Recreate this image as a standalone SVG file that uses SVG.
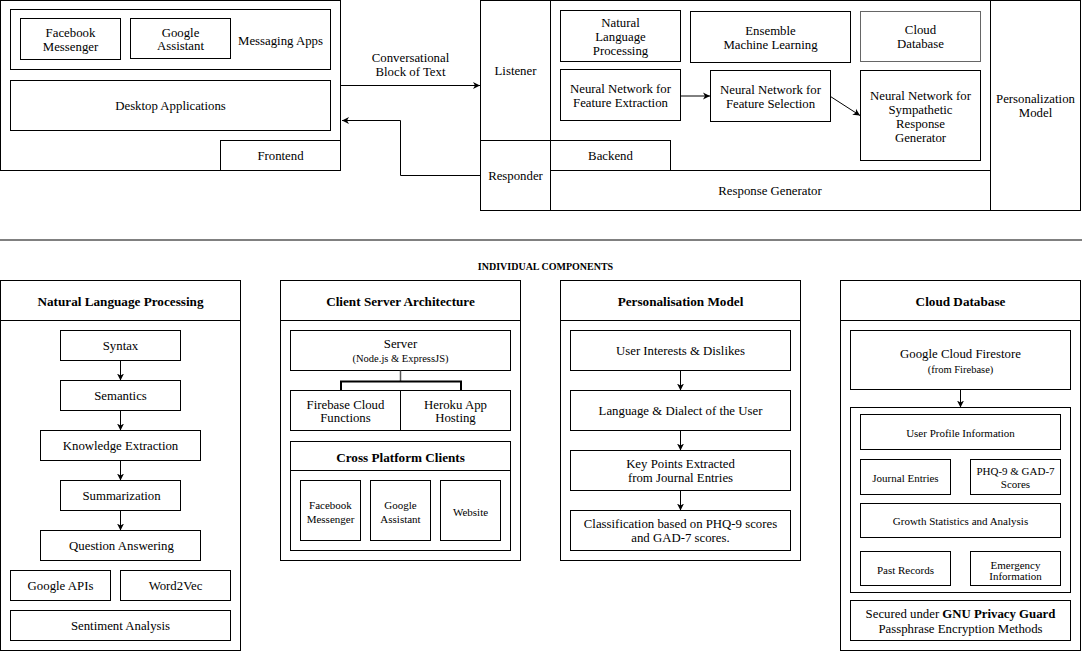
<svg xmlns="http://www.w3.org/2000/svg" width="1082" height="651" viewBox="0 0 1082 651">
<defs>
<style>
.box{fill:#fff;stroke:#000;stroke-width:1}
.ln{fill:none;stroke:#000;stroke-width:1}
.thick{fill:none;stroke:#000;stroke-width:2}
text{font-family:"Liberation Serif","Times New Roman",serif;font-size:12.8px;text-anchor:middle;dominant-baseline:central;fill:#000}
.s10{font-size:11px}
.s105{font-size:10.5px}
.hd{font-weight:bold;font-size:13.2px}
.sec{font-size:10px;font-weight:bold}
</style>
<marker id="ah" markerWidth="8" markerHeight="8" refX="7" refY="4" orient="auto" markerUnits="userSpaceOnUse">
<path d="M0,0.5 L7,4 L0,7.5 L2,4 z" fill="#000"/>
</marker>
</defs>
<rect width="1082" height="651" fill="#fff"/>

<g id="frontend">
<rect class="box" x="0.5" y="0.5" width="340" height="170"/>
<rect class="box" x="10.5" y="9.5" width="320" height="60"/>
<text x="280.5" y="40.5">Messaging Apps</text>
<rect class="box" x="220.5" y="140.5" width="120" height="30"/>
<text x="280.5" y="156">Frontend</text>
</g>
<g id="fb-messenger">
<rect class="box" x="20.5" y="18.5" width="100" height="41"/>
<text x="70.5" y="33">Facebook</text>
<text x="70.5" y="46.5">Messenger</text>
</g>
<g id="google-assistant">
<rect class="box" x="130.5" y="18.5" width="100" height="40"/>
<text x="180.5" y="32.5">Google</text>
<text x="180.5" y="45.5">Assistant</text>
</g>
<g id="desktop-apps">
<rect class="box" x="10.5" y="80.5" width="320" height="50"/>
<text x="170.5" y="106">Desktop Applications</text>
</g>

<g id="backend">
<rect class="box" x="480.5" y="0.5" width="600" height="210"/>
<line class="ln" x1="550.5" y1="0.5" x2="550.5" y2="210.5"/>
<line class="ln" x1="990.5" y1="0.5" x2="990.5" y2="210.5"/>
<line class="ln" x1="480.5" y1="140.5" x2="550.5" y2="140.5"/>
<line class="ln" x1="550.5" y1="170.5" x2="990.5" y2="170.5"/>
<rect class="box" x="550.5" y="140.5" width="120" height="30"/>
<text x="515.5" y="71">Listener</text>
<text x="515.5" y="176">Responder</text>
<text x="610.5" y="156">Backend</text>
<text x="770" y="191">Response Generator</text>
<text x="1035.5" y="99">Personalization</text>
<text x="1035.5" y="113">Model</text>
</g>
<g id="nlp-top">
<rect class="box" x="560.5" y="10.5" width="120" height="51"/>
<text x="620.5" y="23">Natural</text>
<text x="620.5" y="37">Language</text>
<text x="620.5" y="51">Processing</text>
</g>
<g id="ensemble">
<rect class="box" x="690.5" y="11.5" width="160" height="51"/>
<text x="770.5" y="31">Ensemble</text>
<text x="770.5" y="45">Machine Learning</text>
</g>
<g id="cloud-db-top">
<rect class="box" x="860.5" y="11.5" width="120" height="50" style="stroke:#666"/>
<text x="920.5" y="30">Cloud</text>
<text x="920.5" y="43.5">Database</text>
</g>
<g id="nn-extraction">
<rect class="box" x="560.5" y="69.5" width="120" height="51"/>
<text x="620.5" y="89">Neural Network for</text>
<text x="620.5" y="103">Feature Extraction</text>
</g>
<g id="nn-selection">
<rect class="box" x="710.5" y="70.5" width="120" height="51"/>
<text x="770.5" y="90">Neural Network for</text>
<text x="770.5" y="104">Feature Selection</text>
</g>
<g id="nn-sympathetic">
<rect class="box" x="860.5" y="70.5" width="120" height="90"/>
<text x="920.5" y="96">Neural Network for</text>
<text x="920.5" y="110">Sympathetic</text>
<text x="920.5" y="124">Response</text>
<text x="920.5" y="138">Generator</text>
</g>

<line x1="0" y1="240" x2="1082" y2="240" stroke="#808080" stroke-width="2"/>
<text class="sec" x="545.5" y="266.5">INDIVIDUAL COMPONENTS</text>

<g id="nlp-panel">
<rect class="box" x="0.5" y="280.5" width="240" height="370"/>
<line class="ln" x1="0.5" y1="320.5" x2="240.5" y2="320.5"/>
<text class="hd" x="120.5" y="301">Natural Language Processing</text>
</g>
<g id="syntax"><rect class="box" x="60.5" y="330.5" width="120" height="30"/><text x="120.5" y="346">Syntax</text></g>
<g id="semantics"><rect class="box" x="60.5" y="380.5" width="120" height="30"/><text x="120.5" y="396">Semantics</text></g>
<g id="knowledge"><rect class="box" x="40.5" y="430.5" width="160" height="30"/><text x="120.5" y="446">Knowledge Extraction</text></g>
<g id="summarization"><rect class="box" x="60.5" y="480.5" width="120" height="30"/><text x="121.5" y="496">Summarization</text></g>
<g id="qa"><rect class="box" x="40.5" y="530.5" width="160" height="30"/><text x="121.5" y="546">Question Answering</text></g>
<g id="google-apis"><rect class="box" x="10.5" y="570.5" width="100" height="30"/><text x="60.5" y="586">Google APIs</text></g>
<g id="word2vec"><rect class="box" x="120.5" y="570.5" width="110" height="30"/><text x="175.5" y="586">Word2Vec</text></g>
<g id="sentiment"><rect class="box" x="10.5" y="610.5" width="220" height="30"/><text x="120.5" y="626">Sentiment Analysis</text></g>

<g id="csa-panel">
<rect class="box" x="280.5" y="280.5" width="240" height="280"/>
<line class="ln" x1="280.5" y1="320.5" x2="520.5" y2="320.5"/>
<text class="hd" x="400.5" y="301">Client Server Architecture</text>
</g>
<g id="server">
<rect class="box" x="290.5" y="330.5" width="220" height="40"/>
<text x="400.5" y="344">Server</text>
<text class="s105" x="400.5" y="358.5">(Node.js &amp; ExpressJS)</text>
</g>
<g id="firebase-functions">
<rect class="box" x="290.5" y="390.5" width="110" height="40"/>
<text x="345.5" y="404.5">Firebase Cloud</text>
<text x="345.5" y="418">Functions</text>
</g>
<g id="heroku">
<rect class="box" x="400.5" y="390.5" width="110" height="40"/>
<text x="455.5" y="404.5">Heroku App</text>
<text x="455.5" y="418">Hosting</text>
</g>
<g id="cross-platform">
<rect class="box" x="290.5" y="441.5" width="220" height="109"/>
<line class="ln" x1="290.5" y1="470.5" x2="510.5" y2="470.5"/>
<text class="hd" x="400.5" y="457">Cross Platform Clients</text>
</g>
<g id="client-fb"><rect class="box" x="300.5" y="480.5" width="60" height="60"/><text class="s10" x="330.5" y="504.5">Facebook</text><text class="s10" x="330.5" y="518.5">Messenger</text></g>
<g id="client-ga"><rect class="box" x="370.5" y="480.5" width="60" height="60"/><text class="s10" x="400.5" y="504.5">Google</text><text class="s10" x="400.5" y="518.5">Assistant</text></g>
<g id="client-web"><rect class="box" x="440.5" y="480.5" width="60" height="60"/><text class="s10" x="470.5" y="511.5">Website</text></g>

<g id="pm-panel">
<rect class="box" x="560.5" y="280.5" width="240" height="280"/>
<line class="ln" x1="560.5" y1="320.5" x2="800.5" y2="320.5"/>
<text class="hd" x="680.5" y="301">Personalisation Model</text>
</g>
<g id="interests"><rect class="box" x="570.5" y="330.5" width="220" height="40"/><text x="680.5" y="351">User Interests &amp; Dislikes</text></g>
<g id="language"><rect class="box" x="570.5" y="390.5" width="220" height="40"/><text x="680.5" y="411">Language &amp; Dialect of the User</text></g>
<g id="keypoints"><rect class="box" x="570.5" y="450.5" width="220" height="40"/><text x="680.5" y="464">Key Points Extracted</text><text x="680.5" y="478">from Journal Entries</text></g>
<g id="classification"><rect class="box" x="570.5" y="510.5" width="220" height="40"/><text x="680.5" y="524">Classification based on PHQ-9 scores</text><text x="680.5" y="538">and GAD-7 scores.</text></g>

<g id="cd-panel">
<rect class="box" x="840.5" y="280.5" width="240" height="370"/>
<line class="ln" x1="840.5" y1="320.5" x2="1080.5" y2="320.5"/>
<text class="hd" x="960.5" y="301">Cloud Database</text>
</g>
<g id="firestore">
<rect class="box" x="850.5" y="330.5" width="220" height="59"/>
<text x="960.5" y="354">Google Cloud Firestore</text>
<text class="s105" x="960.5" y="369">(from Firebase)</text>
</g>
<g id="store-container"><rect class="box" x="850.5" y="407.5" width="220" height="185"/></g>
<g id="user-profile"><rect class="box" x="860.5" y="414.5" width="200" height="35"/><text class="s10" x="960.5" y="433">User Profile Information</text></g>
<g id="journal"><rect class="box" x="860.5" y="459.5" width="90" height="35"/><text class="s10" x="905.5" y="477.5">Journal Entries</text></g>
<g id="phq"><rect class="box" x="970.5" y="459.5" width="90" height="35"/><text class="s10" x="1015.5" y="471">PHQ-9 &amp; GAD-7</text><text class="s10" x="1015.5" y="484">Scores</text></g>
<g id="growth"><rect class="box" x="860.5" y="503.5" width="200" height="34"/><text class="s10" x="960.5" y="521">Growth Statistics and Analysis</text></g>
<g id="past-records"><rect class="box" x="860.5" y="551.5" width="90" height="34"/><text class="s10" x="905.5" y="569.5">Past Records</text></g>
<g id="emergency"><rect class="box" x="970.5" y="551.5" width="90" height="34"/><text class="s10" x="1015.5" y="564.5">Emergency</text><text class="s10" x="1015.5" y="576">Information</text></g>
<g id="gnu">
<rect class="box" x="850.5" y="600.5" width="220" height="40"/>
<text x="960.5" y="614">Secured under <tspan font-weight="bold">GNU Privacy Guard</tspan></text>
<text x="960.5" y="628.5">Passphrase Encryption Methods</text>
</g>

<g id="connectors">
<line class="ln" x1="340.5" y1="85.5" x2="480" y2="85.5" marker-end="url(#ah)"/>
<text x="410.5" y="58">Conversational</text>
<text x="410.5" y="72">Block of Text</text>
<polyline class="ln" points="480,175.5 400.5,175.5 400.5,120.5 342,120.5" marker-end="url(#ah)"/>
<line class="ln" x1="680.5" y1="96" x2="710" y2="96" marker-end="url(#ah)"/>
<line class="ln" x1="830.5" y1="96.5" x2="860" y2="115.5" marker-end="url(#ah)"/>
<line class="ln" x1="120.5" y1="360.5" x2="120.5" y2="380.5" marker-end="url(#ah)"/>
<line class="ln" x1="120.5" y1="410.5" x2="120.5" y2="430.5" marker-end="url(#ah)"/>
<line class="ln" x1="120.5" y1="460.5" x2="120.5" y2="480.5" marker-end="url(#ah)"/>
<line class="ln" x1="120.5" y1="510.5" x2="120.5" y2="530.5" marker-end="url(#ah)"/>
<line x1="400.5" y1="370.5" x2="400.5" y2="381.5" stroke="#555" stroke-width="1.5"/>
<polyline class="thick" points="341,390.5 341,381.5 461,381.5 461,390.5"/>
<line class="ln" x1="680.5" y1="370.5" x2="680.5" y2="390.5" marker-end="url(#ah)"/>
<line class="ln" x1="680.5" y1="430.5" x2="680.5" y2="450.5" marker-end="url(#ah)"/>
<line class="ln" x1="680.5" y1="490.5" x2="680.5" y2="510.5" marker-end="url(#ah)"/>
<line class="ln" x1="960.5" y1="389.5" x2="960.5" y2="407.5" marker-end="url(#ah)"/>
</g>
</svg>
